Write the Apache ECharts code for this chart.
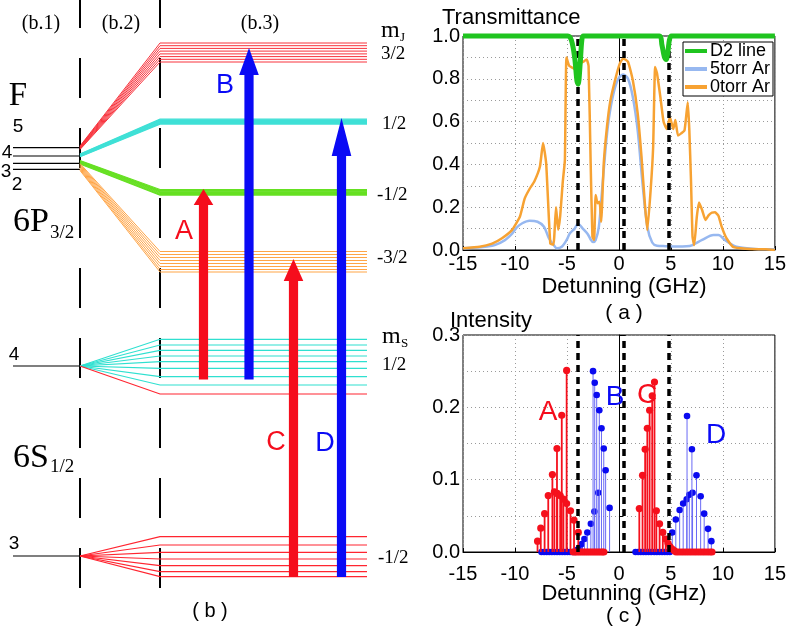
<!DOCTYPE html>
<html><head><meta charset="utf-8">
<script src="https://cdn.jsdelivr.net/npm/echarts@6/dist/echarts.min.js"></script>
<style>html,body{margin:0;padding:0;background:#fff}#c{width:789px;height:629px}</style>
</head><body><div id="c"></div>
<script>
// ===== (a) Transmittance: [detuning GHz, transmittance] =====
const d2Line = [[-15,1],[-4.9,1],[-4.57,0.98],[-4.26,0.9],[-4.04,0.79],[-3.92,0.775],[-3.73,0.87],[-3.57,0.98],[-3.42,1],[3.9,1],[4.13,0.96],[4.38,0.9],[4.55,0.89],[4.72,0.93],[4.85,0.98],[5.05,1],[15,1]];
const ar5torr = [[-15,0.008],[-12.2,0.02],[-11,0.045],[-10.3,0.075],[-9.84,0.105],[-9.3,0.125],[-8.6,0.137],[-7.83,0.132],[-7.21,0.109],[-6.74,0.055],[-6.27,0.023],[-5.96,0.008],[-5.5,0.015],[-5.03,0.047],[-4.72,0.078],[-4.26,0.1],[-3.94,0.123],[-3.48,0.1],[-3.01,0.075],[-2.7,0.048],[-2.5,0.037],[-2.24,0.047],[-1.93,0.109],[-1.62,0.28],[-1.3,0.467],[-0.99,0.607],[-0.53,0.73],[-0.06,0.8],[0.4,0.82],[0.87,0.8],[1.33,0.716],[1.8,0.56],[2.27,0.31],[2.73,0.109],[3.2,0.035],[3.66,0.02],[4.5,0.018],[5.5,0.016],[6.5,0.017],[7.08,0.023],[8.0,0.047],[9.1,0.07],[9.57,0.07],[10.19,0.047],[11.3,0.015],[13.1,0.005],[15,0.003]];
const ar0torr = [[-15,0.008],[-13.4,0.015],[-12.2,0.03],[-11.25,0.055],[-10.3,0.093],[-9.53,0.155],[-9.07,0.24],[-8.6,0.285],[-8.14,0.32],[-7.6,0.39],[-7.3,0.5],[-7.0,0.405],[-6.6,0.03],[-6.3,0.025],[-6.05,0.2],[-5.85,0.095],[-5.65,0.16],[-5.4,0.32],[-5.2,0.42],[-5.05,0.9],[-4.78,0.86],[-4.41,0.85],[-4.1,0.84],[-3.95,0.82],[-3.79,0.87],[-3.42,0.88],[-3.11,0.89],[-2.92,0.86],[-2.72,0.405],[-2.55,0.062],[-2.39,0.047],[-2.24,0.257],[-2.05,0.218],[-1.86,0.226],[-1.71,0.132],[-1.46,0.405],[-1.15,0.576],[-0.84,0.693],[-0.37,0.794],[0.09,0.872],[0.4,0.895],[0.87,0.88],[1.33,0.794],[1.8,0.64],[2.17,0.436],[2.49,0.218],[2.73,0.093],[3.05,0.28],[3.29,0.48],[3.48,0.855],[3.66,0.826],[3.98,0.717],[4.29,0.6],[4.6,0.565],[4.91,0.62],[5.22,0.565],[5.43,0.607],[5.68,0.535],[5.99,0.545],[6.31,0.56],[6.62,0.69],[6.77,0.56],[6.93,0.327],[7.08,0.062],[7.24,0.023],[7.49,0.155],[7.7,0.222],[8.0,0.187],[8.33,0.14],[8.64,0.163],[8.95,0.175],[9.25,0.176],[9.57,0.16],[9.88,0.109],[10.34,0.055],[10.97,0.015],[12.2,0.006],[14.1,0.003],[15,0]];
const resonanceLines = [-3.95, 0.45, 4.8];
const seriesNames = ['D2 line', '5torr Ar', '0torr Ar'];

// ===== (c) Intensity stems: [detuning GHz, intensity] =====
const stemA1 = [[-7.83,0.015],[-7.52,0.033],[-7.15,0.053],[-6.8,0.078],[-6.4,0.107],[-5.96,0.143],[-5.5,0.189],[-5.03,0.251]];
const stemA2 = [[-6.21,0.083],[-5.93,0.081],[-5.65,0.078],[-5.34,0.073],[-5.03,0.067],[-4.66,0.057],[-4.32,0.044],[-3.91,0.027]];
const stemA0 = [[-4.4,0],[-4.2,0],[-4.0,0],[-3.8,0],[-3.6,0],[-3.4,0],[-3.2,0],[-3.0,0],[-2.8,0],[-2.6,0],[-2.4,0],[-2.2,0],[-2.0,0],[-1.8,0],[-1.6,0],[-1.45,0]];
const stemC1 = [[1.96,0.06],[2.27,0.106],[2.52,0.142],[2.73,0.171],[2.95,0.196],[3.2,0.216],[3.42,0.235]];
const stemC2 = [[3.6,0.057],[3.91,0.039],[4.22,0.027],[4.5,0.018],[4.72,0.012],[4.92,0.007],[5.12,0.004],[5.32,0.002]];
const stemC0 = [[5.5,0],[5.75,0],[6.0,0],[6.25,0],[6.5,0],[6.75,0],[7.0,0],[7.25,0],[7.5,0],[7.75,0],[8.0,0],[8.25,0],[8.5,0],[8.75,0],[8.95,0]];
const stemB1 = [[-2.49,0.25],[-2.33,0.234],[-2.14,0.217],[-1.89,0.196],[-1.68,0.171],[-1.46,0.143],[-1.28,0.113],[-0.9,0.061]];
const stemB2 = [[-4.0,0.003],[-3.79,0.006],[-3.57,0.011],[-3.32,0.018],[-3.04,0.027],[-2.7,0.039],[-2.36,0.056],[-1.99,0.082]];
const stemB0 = [[-7.45,0],[-7.2,0],[-6.95,0],[-6.7,0],[-6.45,0],[-6.2,0],[-5.95,0],[-5.7,0],[-5.45,0],[-5.2,0],[-4.95,0],[-4.7,0],[-4.45,0],[-4.2,0]];
const stemD1 = [[6.55,0.188],[7.02,0.142],[7.46,0.106],[7.86,0.077],[8.2,0.053],[8.57,0.032],[8.89,0.015]];
const stemD2 = [[5.13,0.027],[5.47,0.045],[5.84,0.058],[6.18,0.067],[6.52,0.073],[6.77,0.079],[7.08,0.082]];
const stemD0 = [[1.6,0],[1.85,0],[2.1,0],[2.35,0],[2.6,0],[2.85,0],[3.1,0],[3.4,0],[3.65,0],[3.9,0],[4.15,0],[4.4,0],[4.65,0],[4.9,0]];
const stemLabelNames = ['A', 'B', 'C', 'D'];

// ===== (b) level diagram (schematic energy units) =====
const fUpper = [147.7, 156, 163.3, 169.3];
const fUpperLabels = ['5', '4', '3', '2'];
const fLower = [366, 556];
const fLowerLabels = ['4', '3'];
const fanRedStart = [146,146.5,147,147.5,148,148.5,149,149.5];
const fanRedEnd = [43,45.7,48.4,51.1,53.9,56.6,59.3,62];
const fanCyanStart = [154,154.4,154.8,155.2,155.6,156,156.4,156.8];
const fanCyanEnd = [119.2,119.9,120.6,121.3,122,122.7,123.4,124.1];
const fanGreenStart = [160.5,161,161.5,162,162.5,163,163.5,164];
const fanGreenEnd = [189.5,190.3,191.1,191.9,192.7,193.5,194.3,195.1];
const fanOrangeStart = [163.5,164.5,165.5,166.5,167.5,168.5,169.5,170.5];
const fanOrangeEnd = [251.5,254.5,257.5,260.5,263.5,266.5,269.5,272];
const groundCyanEnd = [339.3,345,350.3,356,361.7,368.3,376.7,385];
const groundRedF4End = [394];
const groundRedF3End = [536.7,545,552.3,559,565.7,571.7,576.7];
const mJLabels = ['3/2', '1/2', '-1/2', '-3/2'];
const mSLabels = ['1/2', '-1/2'];
const arrowNames = ['A', 'B', 'C', 'D'];
const arrowFrom = [379.5, 379.5, 577, 577];
const arrowTo = [189, 48, 259, 118];

// ---- layout / style (not data) ----
const X_F0 = 13, X_DASH1 = 80, X_DASH2 = 160, X_END = 367;
const arrowXs = [203.5, 249, 293.5, 341.5];
const arrowHeadLen = [16, 27, 22, 38];
const arrowColors = ['#f50d1c', '#0a0af5', '#f50d1c', '#0a0af5'];
const stemLabelPos = [[548, 412], [615, 397], [647, 395], [716, 435]];
const SERIF = 'Liberation Serif', SANS = 'Liberation Sans';

function fan(startY, endY, color, w) {
  return startY.map((s, i) => ({
    coords: [[X_DASH1, s], [X_DASH2, endY[i]], [X_END, endY[i]]],
    lineStyle: {color: color, width: w}
  }));
}
const levelLines = [].concat(
  fUpper.map(y => ({coords: [[X_F0, y], [X_DASH1, y]], lineStyle: {color: '#000', width: 1.2}})),
  fLower.map(y => ({coords: [[X_F0, y], [X_DASH1, y]], lineStyle: {color: '#000', width: 1.2}})),
  fan(fanRedStart, fanRedEnd, '#f8323c', 1),
  fan(fanCyanStart, fanCyanEnd, '#3fe0d6', 1.2),
  fan(fanGreenStart, fanGreenEnd, '#66e022', 1.2),
  fan(fanOrangeStart, fanOrangeEnd, '#ffa546', 1),
  groundCyanEnd.map(e => ({coords: [[X_DASH1, fLower[0]], [X_DASH2, e], [X_END, e]], lineStyle: {color: '#2fe0d0', width: 1.2}})),
  groundRedF4End.map(e => ({coords: [[X_DASH1, fLower[0]], [X_DASH2, e], [X_END, e]], lineStyle: {color: '#ff2530', width: 1.2}})),
  groundRedF3End.map(e => ({coords: [[X_DASH1, fLower[1]], [X_DASH2, e], [X_END, e]], lineStyle: {color: '#ff2530', width: 1.2}}))
);
const dashLines = [X_DASH1, X_DASH2].map(x => ({coords: [[x, 0], [x, 595]]}));
const arrowData = arrowXs.map((x, i) => [x, arrowFrom[i], arrowTo[i]]);

function stemRender(color, lineColor, lw, r) {
  return function (params, api) {
    const p = api.coord([api.value(0), api.value(1)]);
    const b = api.coord([api.value(0), 0]);
    return {type: 'group', children: [
      {type: 'line', shape: {x1: b[0], y1: b[1], x2: p[0], y2: p[1]}, style: {stroke: lineColor, lineWidth: lw}},
      {type: 'circle', shape: {cx: p[0], cy: p[1], r: r}, style: {fill: color}}
    ]};
  };
}
function stemSeries(data, color, lineColor, lw, r) {
  return {type: 'custom', coordinateSystem: 'cartesian2d', xAxisIndex: 2, yAxisIndex: 2, data: data,
    renderItem: stemRender(color, lineColor, lw, r), z: 3, silent: true, clip: false};
}

function txt(text, x, y, size, family, color, align) {
  return {type: 'text', x: x, y: y, z: 20, silent: true,
    style: {text: text, fontSize: size, fontFamily: family, fill: color || '#000', align: align || 'center', verticalAlign: 'middle'}};
}

const graphics = [
  txt('(b.1)', 41, 24, 20, SERIF), txt('(b.2)', 121, 24, 20, SERIF), txt('(b.3)', 260, 24, 20, SERIF),
  txt('F', 18, 96, 33, SERIF),
  txt(fUpperLabels[0], 18, 127, 19, SANS), txt(fUpperLabels[1], 7, 153, 19, SANS),
  txt(fUpperLabels[2], 6, 172, 19, SANS), txt(fUpperLabels[3], 17, 185, 19, SANS),
  txt('6P', 13, 222, 34, SERIF, '#000', 'left'), txt('3/2', 50, 233, 19, SERIF, '#000', 'left'),
  txt('6S', 13, 458, 34, SERIF, '#000', 'left'), txt('1/2', 50, 467, 19, SERIF, '#000', 'left'),
  txt(fLowerLabels[0], 14, 355, 19, SANS), txt(fLowerLabels[1], 14, 544, 19, SANS),
  txt('m', 381, 31, 24, SERIF, '#000', 'left'), txt('J', 400, 38, 13, SERIF, '#000', 'left'),
  txt(mJLabels[0], 381, 54, 19, SERIF, '#000', 'left'), txt(mJLabels[1], 382, 124, 19, SERIF, '#000', 'left'),
  txt(mJLabels[2], 377, 195, 19, SERIF, '#000', 'left'), txt(mJLabels[3], 377, 258, 19, SERIF, '#000', 'left'),
  txt('m', 382, 337, 24, SERIF, '#000', 'left'), txt('S', 401, 344, 13, SERIF, '#000', 'left'),
  txt(mSLabels[0], 382, 365, 19, SERIF, '#000', 'left'), txt(mSLabels[1], 378, 558, 19, SERIF, '#000', 'left'),
  txt(arrowNames[0], 184, 232, 27, SANS, arrowColors[0]), txt(arrowNames[1], 225, 86, 27, SANS, arrowColors[1]),
  txt(arrowNames[2], 276, 443, 27, SANS, arrowColors[2]), txt(arrowNames[3], 325, 444, 27, SANS, arrowColors[3]),
  txt('( b )', 210, 611, 20, SANS),
  txt('Transmittance', 442, 18, 22, SANS, '#000', 'left'),
  txt('Detunning (GHz)', 624, 287, 22, SANS), txt('( a )', 624, 313, 21, SANS),
  txt('Intensity', 450, 321, 22, SANS, '#000', 'left'),
  txt('Detunning (GHz)', 624, 594, 22, SANS), txt('( c )', 624, 616, 21, SANS)
].concat(stemLabelNames.map((n, i) => txt(n, stemLabelPos[i][0], stemLabelPos[i][1], 28, SANS, arrowColors[i])));

function valueX(grid, labelMargin) {
  return {type: 'value', gridIndex: grid, min: -15, max: 15, interval: 5,
    axisLine: {lineStyle: {color: '#000', width: 1}}, axisTick: {inside: true, length: 4, lineStyle: {color: '#000'}},
    axisLabel: {color: '#000', fontSize: 20, fontFamily: SANS, margin: labelMargin},
    splitLine: {show: true, lineStyle: {color: '#9a9a9a', type: [1, 3], width: 1}}};
}
function valueY(grid, max, step, labelStep) {
  return {type: 'value', gridIndex: grid, min: 0, max: max, interval: step,
    axisLine: {lineStyle: {color: '#000', width: 1}}, axisTick: {inside: true, length: 4, lineStyle: {color: '#000'}},
    axisLabel: {color: '#000', fontSize: 20, fontFamily: SANS, margin: 3,
      formatter: v => (Math.round(v / step) % Math.round(labelStep / step) === 0 ? v.toFixed(1) : '')},
    splitLine: {show: true, lineStyle: {color: '#9a9a9a', type: [1, 3], width: 1}}};
}

const option = {
  animation: false,
  backgroundColor: '#fff',
  grid: [
    {left: 0, top: 0, width: 400, height: 629},
    {left: 463, top: 36, width: 322, height: 214, show: true, borderColor: '#000', borderWidth: 1, backgroundColor: 'transparent'},
    {left: 463, top: 335, width: 322, height: 217, show: true, borderColor: '#000', borderWidth: 1, backgroundColor: 'transparent'}
  ],
  xAxis: [
    {type: 'value', gridIndex: 0, min: 0, max: 400, show: false},
    valueX(1, 4),
    valueX(2, 12)
  ],
  yAxis: [
    {type: 'value', gridIndex: 0, min: 0, max: 629, inverse: true, show: false},
    valueY(1, 1, 0.1, 0.2),
    valueY(2, 0.3, 0.05, 0.1)
  ],
  legend: {
    data: seriesNames, orient: 'vertical', left: 683, top: 42, itemGap: 0, itemWidth: 22, itemHeight: 4,
    icon: 'rect', backgroundColor: '#fff', borderColor: '#000', borderWidth: 1, borderRadius: 0,
    padding: [0, 3, 0, 2], textStyle: {fontSize: 18, fontFamily: SANS, color: '#000', lineHeight: 15, padding: [0, 0, 0, -2]}
  },
  graphic: graphics,
  series: [
    // diagram
    {type: 'lines', coordinateSystem: 'cartesian2d', xAxisIndex: 0, yAxisIndex: 0, polyline: true, silent: true,
      data: dashLines, lineStyle: {color: '#000', width: 2, type: [40, 30], dashOffset: 12, opacity: 1}, z: 1},
    {type: 'lines', coordinateSystem: 'cartesian2d', xAxisIndex: 0, yAxisIndex: 0, polyline: true, silent: true,
      data: levelLines, lineStyle: {opacity: 1}, z: 2},
    {type: 'custom', coordinateSystem: 'cartesian2d', xAxisIndex: 0, yAxisIndex: 0, data: arrowData, z: 5, silent: true,
      renderItem: function (params, api) {
        const i = params.dataIndex;
        const p0 = api.coord([api.value(0), api.value(1)]);
        const p1 = api.coord([api.value(0), api.value(2)]);
        const sw = 4.6, hw = 9.8, hl = arrowHeadLen[i], x = p0[0];
        return {type: 'polygon', shape: {points: [
          [x - sw, p0[1]], [x + sw, p0[1]], [x + sw, p1[1] + hl], [x + hw, p1[1] + hl], [x, p1[1]],
          [x - hw, p1[1] + hl], [x - sw, p1[1] + hl]]}, style: {fill: arrowColors[i]}};
      }},
    // (a)
    {name: seriesNames[1], type: 'line', xAxisIndex: 1, yAxisIndex: 1, data: ar5torr, showSymbol: false, smooth: 0.3,
      color: '#97b8f0', lineStyle: {width: 2.5}, z: 3,
      markLine: {silent: true, symbol: 'none', label: {show: false}, animation: false,
        lineStyle: {color: '#000', width: 3.5, type: [7, 5]}, data: resonanceLines.map(x => ({xAxis: x}))}},
    {name: seriesNames[2], type: 'line', xAxisIndex: 1, yAxisIndex: 1, data: ar0torr, showSymbol: false, smooth: 0.15,
      color: '#f7a232', lineStyle: {width: 2.5}, z: 4},
    {name: seriesNames[0], type: 'line', xAxisIndex: 1, yAxisIndex: 1, data: d2Line, showSymbol: false, smooth: 0.3,
      color: '#1fc41f', lineStyle: {width: 5}, z: 5, clip: false},
    // (c)
    {type: 'line', xAxisIndex: 2, yAxisIndex: 2, data: [], z: 2,
      markLine: {silent: true, symbol: 'none', label: {show: false}, animation: false,
        lineStyle: {color: '#000', width: 3.5, type: [7, 5]}, data: resonanceLines.map(x => ({xAxis: x}))}},
    stemSeries(stemB0, '#0a0af0', '#6a6af5', 1, 3.3),
    stemSeries(stemD0, '#0a0af0', '#6a6af5', 1, 3.3),
    stemSeries(stemB2, '#0a0af0', '#6a6af5', 1, 3.3),
    stemSeries(stemB1, '#0a0af0', '#6a6af5', 1, 3.3),
    stemSeries(stemD2, '#0a0af0', '#6a6af5', 1, 3.3),
    stemSeries(stemD1, '#0a0af0', '#6a6af5', 1, 3.3),
    stemSeries(stemA0, '#f5101c', '#f5101c', 1.8, 3.6),
    stemSeries(stemC0, '#f5101c', '#f5101c', 1.8, 3.6),
    stemSeries(stemA1, '#f5101c', '#f5101c', 1.8, 3.6),
    stemSeries(stemA2, '#f5101c', '#f5101c', 1.8, 3.6),
    stemSeries(stemC1, '#f5101c', '#f5101c', 1.8, 3.6),
    stemSeries(stemC2, '#f5101c', '#f5101c', 1.8, 3.6)
  ]
};
const chart = echarts.init(document.getElementById('c'), null, {renderer: 'canvas'});
chart.setOption(option);
</script></body></html>
